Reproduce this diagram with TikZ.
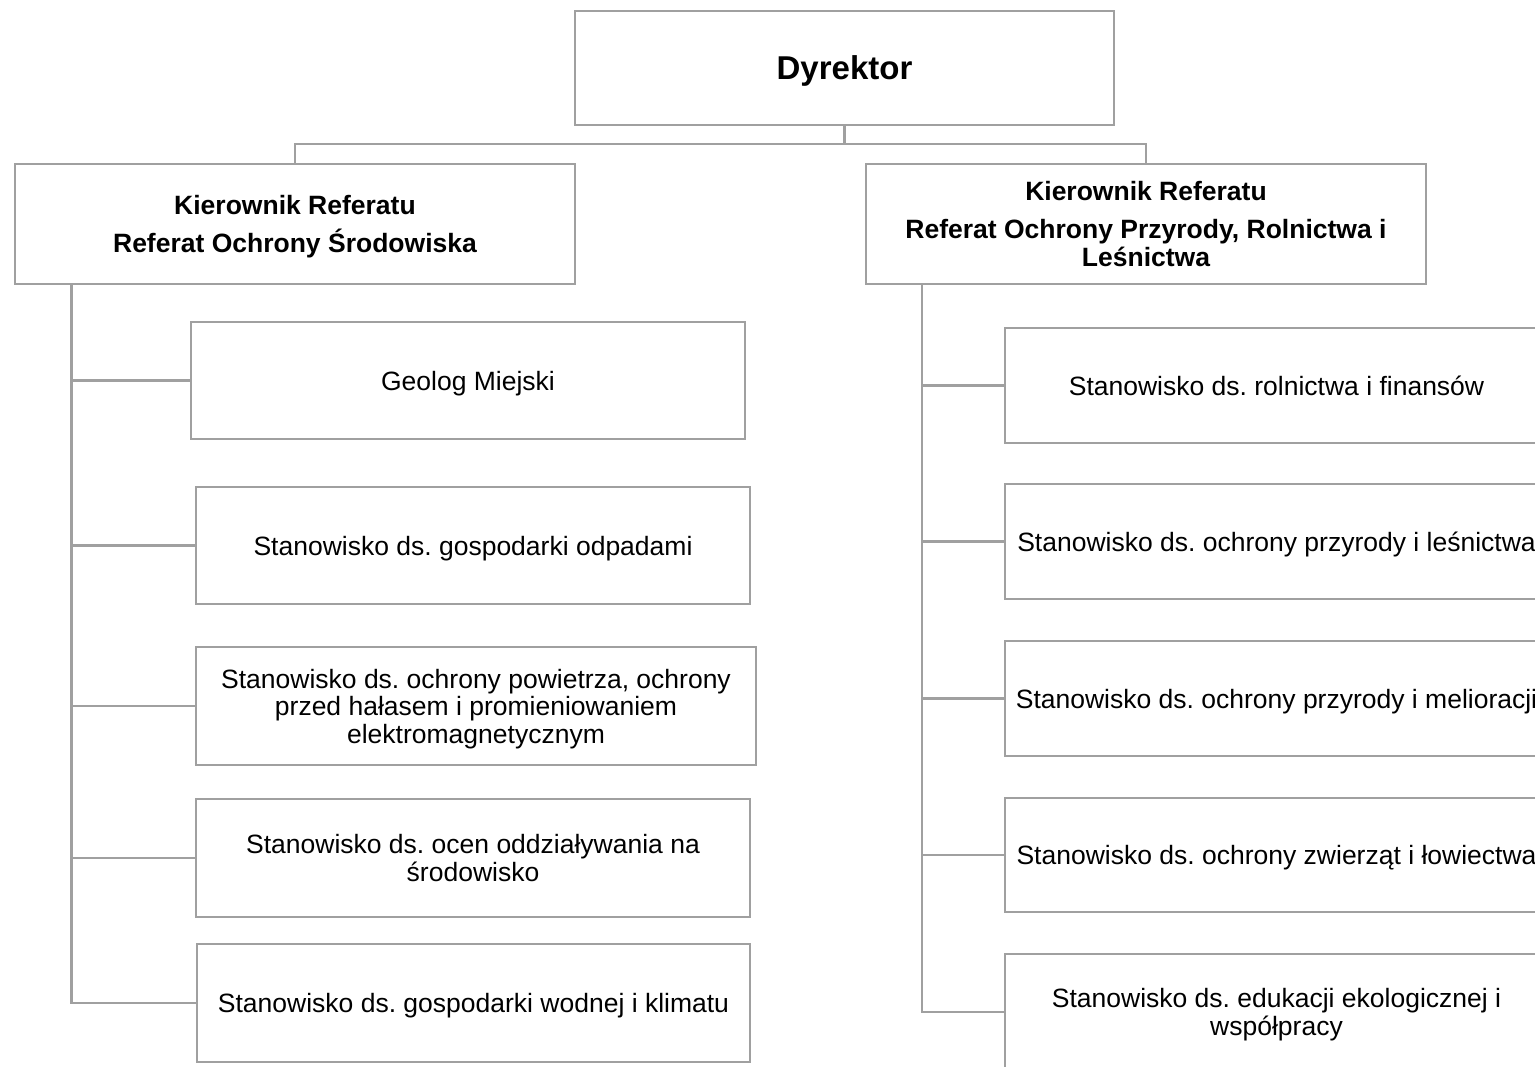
\documentclass[tikz,border=0pt]{standalone}
\usepackage{fontspec}
\setmainfont{Liberation Sans}
\definecolor{linegray}{RGB}{160,160,160}
\begin{document}
\frenchspacing
\begin{tikzpicture}[x=1pt,y=-1pt,
  box/.style={draw=linegray, line width=2.5pt, fill=white, rectangle, inner sep=0pt,
    align=center, text depth=0pt, font=\fontsize{26.5}{27.5}\selectfont},
  headbox/.style={box, font=\fontsize{26.5}{27.5}\selectfont\bfseries},
  conn/.style={draw=linegray, line width=2.5pt}]
\clip (0,0) rectangle (1535,1067);
\fill[white] (0,0) rectangle (1535,1067);

% top
\node[box, minimum width=539, minimum height=114, font=\fontsize{33}{38}\selectfont\bfseries] (dyr) at (844.5,68) {Dyrektor};
\node[headbox, minimum width=560, minimum height=120] (lh) at (295,224)
  {Kierownik Referatu\\[10.5pt]Referat Ochrony Środowiska};
\node[headbox, minimum width=560, minimum height=120] (rh) at (1146,224)
  {Kierownik Referatu\\[10.5pt]Referat Ochrony Przyrody, Rolnictwa i\\Leśnictwa};

\coordinate (jn) at (844.5,144);
\draw[conn] (dyr.south) -- (jn);
\draw[conn] (lh.north) |- (jn) -| (rh.north);

% left column
\node[box, minimum width=554, minimum height=117] (l1) at (468,380.5) {Geolog Miejski};
\node[box, minimum width=554, minimum height=117] (l2) at (473,545.5) {Stanowisko ds. gospodarki odpadami};
\node[box, minimum width=560, minimum height=118] (l3) at (476,706) {Stanowisko ds. ochrony powietrza, ochrony\\przed hałasem i promieniowaniem\\elektromagnetycznym};
\node[box, minimum width=554, minimum height=118] (l4) at (473,858) {Stanowisko ds. ocen oddziaływania na\\środowisko};
\node[box, minimum width=553, minimum height=118] (l5) at (473.5,1003) {Stanowisko ds. gospodarki wodnej i klimatu};

\coordinate (lt) at (71.5,284);
\draw[conn] (lt) |- (l5.west);
\foreach \n in {l1,l2,l3,l4} \draw[conn] (lt |- \n.west) -- (\n.west);

% right column
\node[box, minimum width=543, minimum height=115] (r1) at (1276.5,385.5) {Stanowisko ds. rolnictwa i finansów};
\node[box, minimum width=543, minimum height=115] (r2) at (1276.5,541.5) {Stanowisko ds. ochrony przyrody i leśnictwa};
\node[box, minimum width=543, minimum height=115] (r3) at (1276.5,698.5) {Stanowisko ds. ochrony przyrody i melioracji};
\node[box, minimum width=543, minimum height=114] (r4) at (1276.5,855) {Stanowisko ds. ochrony zwierząt i łowiectwa};
\node[box, minimum width=543, minimum height=116] (r5) at (1276.5,1012) {Stanowisko ds. edukacji ekologicznej i\\współpracy};

\coordinate (rt) at (922,284);
\draw[conn] (rt) |- (r5.west);
\foreach \n in {r1,r2,r3,r4} \draw[conn] (rt |- \n.west) -- (\n.west);
\end{tikzpicture}
\end{document}
